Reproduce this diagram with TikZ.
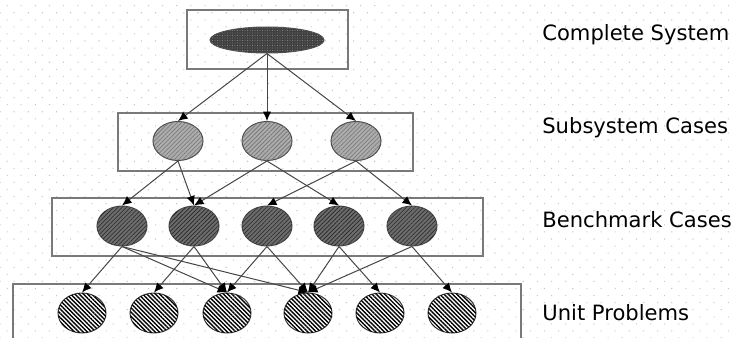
\documentclass[tikz,border=0pt]{standalone}
\usepackage{fontspec}
\setsansfont{DejaVu Sans}
\usetikzlibrary{shapes.geometric,patterns,patterns.meta,arrows.meta}

\begin{document}
\begin{tikzpicture}[x=0.2mm,y=-0.2mm,
  level/.style={draw=gray!95!black, line width=0.3mm},
  ball/.style={ellipse, draw=gray!60!black, line width=0.2mm, inner sep=0pt},
  whole/.style={ball, fill=gray!50!black, minimum width=22.8mm, minimum height=5.2mm,
    postaction={pattern={Dots[distance=0.5mm,radius=0.08mm]}, pattern color=gray!70}},
  sub/.style={ball, fill=gray!65, minimum width=10mm, minimum height=7.8mm,
    postaction={pattern={Lines[angle=45,distance=0.6mm,line width=0.12mm]}, pattern color=gray!90!black}},
  bench/.style={ball, fill=gray!85!black, minimum width=10mm, minimum height=8mm,
    postaction={pattern={Lines[angle=45,distance=0.6mm,line width=0.12mm]}, pattern color=gray!30!black}},
  unit/.style={ball, fill=white, draw=gray!50!black, minimum width=9.6mm, minimum height=8mm,
    postaction={pattern={Lines[angle=-45,distance=0.6mm,line width=0.28mm]}, pattern color=black}},
  link/.style={draw=gray!55!black, line width=0.2mm, -{Latex[length=1.9mm,width=1.7mm,color=black]}},
  caption/.style={font=\sffamily\fontsize{12}{14}\selectfont, anchor=base west, inner sep=0pt}]

\useasboundingbox (0,0) rectangle (732,338);
\fill[white] (0,0) rectangle (732,338);
\fill[pattern={Dots[distance=2mm,angle=45,radius=0.15mm]}, pattern color=gray!45] (0,0) rectangle (732,338);

\draw[level] (187,10) rectangle (348,69);
\draw[level] (118,113) rectangle (413,171);
\draw[level] (52,198) rectangle (483,256);
\draw[level] (13,338) |- (521,284) -- (521,338);

\node[whole] (cs) at (267,40) {};

\node[sub] (s1) at (178,141) {};
\node[sub] (s2) at (267,141) {};
\node[sub] (s3) at (356,141) {};

\node[bench] (b1) at (122,226) {};
\node[bench] (b2) at (194,226) {};
\node[bench] (b3) at (267,226) {};
\node[bench] (b4) at (339,226) {};
\node[bench] (b5) at (412,226) {};

\node[unit] (u1) at (82,313) {};
\node[unit] (u2) at (154,313) {};
\node[unit] (u3) at (227,313) {};
\node[unit] (u4) at (308,313) {};
\node[unit] (u5) at (380,313) {};
\node[unit] (u6) at (452,313) {};

\foreach \s in {s1,s2,s3}
  \draw[link] (cs.south) -- (\s.north);
\foreach \a/\b in {s1/b1,s1/b2,s2/b2,s2/b4,s3/b3,s3/b5}
  \draw[link] (\a.south) -- (\b.north);
\foreach \a/\b in {b1/u1,b1/u3,b1/u4,b2/u2,b2/u3,b3/u3,b3/u4,b4/u4,b4/u5,b5/u4,b5/u6}
  \draw[link] (\a.south) -- (\b.north);

\node[caption] (lcs) at (542,40) {Complete System};
\node[caption] (lsc) at (542,133) {Subsystem Cases};
\node[caption] (lbc) at (542,227) {Benchmark Cases};
\node[caption] (lup) at (542,320) {Unit Problems};

\end{tikzpicture}
\end{document}
